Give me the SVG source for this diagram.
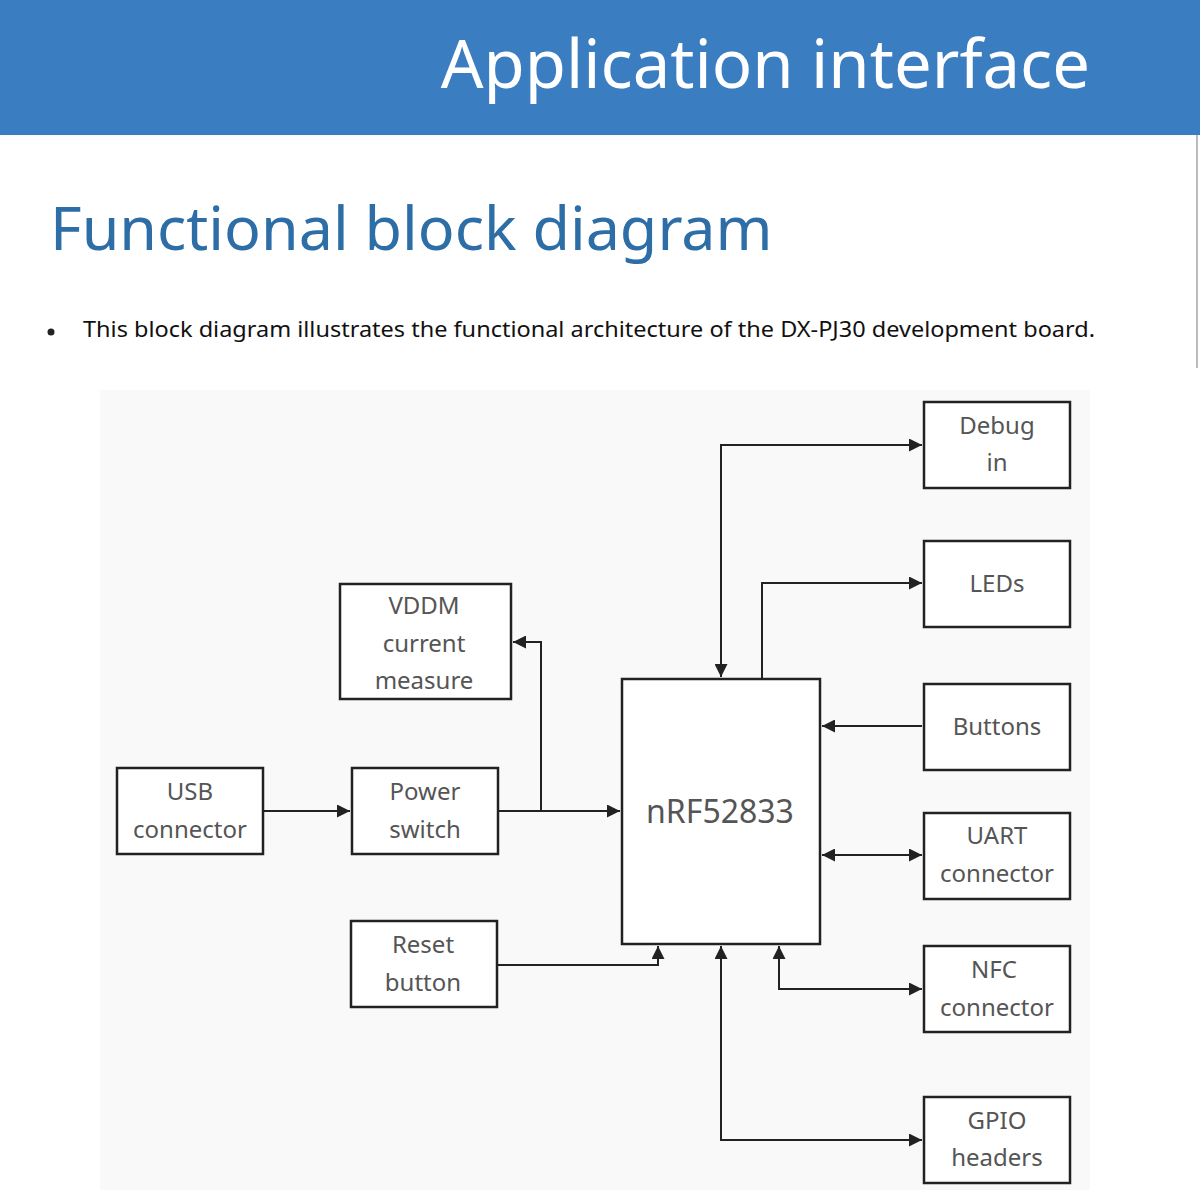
<svg xmlns="http://www.w3.org/2000/svg" width="1200" height="1200" viewBox="0 0 1200 1200">
<style>
.box{fill:#fff;stroke:#222;stroke-width:2.5}
.t{font-family:"Noto Sans","Open Sans",sans-serif;font-size:24px;fill:#555;text-anchor:middle}
.c{fill:none;stroke:#222;stroke-width:2}
</style>
<defs>
<marker id="a" viewBox="0 0 10 10" refX="10" refY="5" markerWidth="13" markerHeight="13" orient="auto-start-reverse" markerUnits="userSpaceOnUse">
<path d="M0,0L10,5L0,10z" fill="#222"/>
</marker>
</defs>
<rect width="1200" height="1200" fill="#fff"/>
<rect x="0" y="0" width="1200" height="135" fill="#3b7dc1"/>
<text x="1090" y="88" text-anchor="end" font-family="Noto Sans,Open Sans,sans-serif" font-size="67" fill="#fff">Application interface</text>
<line x1="1197" y1="135" x2="1197" y2="368" stroke="#bbb" stroke-width="2"/>
<text x="50" y="250" font-family="Noto Sans,Open Sans,sans-serif" font-size="61" fill="#2e6ea6">Functional block diagram</text>
<circle cx="51" cy="332" r="3.5" fill="#222"/>
<text x="83" y="337" font-family="Noto Sans,Open Sans,sans-serif" font-size="22" fill="#111" textLength="1012" lengthAdjust="spacingAndGlyphs">This block diagram illustrates the functional architecture of the DX-PJ30 development board.</text>
<rect x="100" y="390" width="990" height="800" fill="#f9f9f9"/>
<g id="connectors">
<path class="c" d="M721,677V445H922" marker-start="url(#a)" marker-end="url(#a)"/>
<path class="c" d="M762,679V583H922" marker-end="url(#a)"/>
<path class="c" d="M922,726H822" marker-end="url(#a)"/>
<path class="c" d="M822,855H922" marker-start="url(#a)" marker-end="url(#a)"/>
<path class="c" d="M922,989H779V946" marker-start="url(#a)" marker-end="url(#a)"/>
<path class="c" d="M721,946V1140H922" marker-start="url(#a)" marker-end="url(#a)"/>
<path class="c" d="M498,965H658V946" marker-end="url(#a)"/>
<path class="c" d="M263,811H350" marker-end="url(#a)"/>
<path class="c" d="M498,811H620" marker-end="url(#a)"/>
<path class="c" d="M541,811V642H513" marker-end="url(#a)"/>
</g>
<g id="debug"><rect class="box" x="924" y="402" width="146" height="86"/><text class="t" x="997" y="434">Debug</text><text class="t" x="997" y="471">in</text></g>
<g id="leds"><rect class="box" x="924" y="541" width="146" height="86"/><text class="t" x="997" y="592">LEDs</text></g>
<g id="buttons"><rect class="box" x="924" y="684" width="146" height="86"/><text class="t" x="997" y="735">Buttons</text></g>
<g id="uart"><rect class="box" x="924" y="813" width="146" height="86"/><text class="t" x="997" y="844">UART</text><text class="t" x="997" y="882">connector</text></g>
<g id="nfc"><rect class="box" x="924" y="946" width="146" height="86"/><text class="t" x="994" y="978">NFC</text><text class="t" x="997" y="1016">connector</text></g>
<g id="gpio"><rect class="box" x="924" y="1097" width="146" height="86"/><text class="t" x="997" y="1129">GPIO</text><text class="t" x="997" y="1166">headers</text></g>
<g id="nrf"><rect class="box" x="622" y="679" width="198" height="265"/><text class="t" x="720" y="823" style="font-size:32px">nRF52833</text></g>
<g id="vddm"><rect class="box" x="340" y="584" width="171" height="115"/><text class="t" x="424" y="614">VDDM</text><text class="t" x="424" y="652">current</text><text class="t" x="424" y="689">measure</text></g>
<g id="usb"><rect class="box" x="117" y="768" width="146" height="86"/><text class="t" x="190" y="800">USB</text><text class="t" x="190" y="838">connector</text></g>
<g id="power"><rect class="box" x="352" y="768" width="146" height="86"/><text class="t" x="425" y="800">Power</text><text class="t" x="425" y="838">switch</text></g>
<g id="reset"><rect class="box" x="351" y="921" width="146" height="86"/><text class="t" x="423" y="953">Reset</text><text class="t" x="423" y="991">button</text></g>
</svg>
